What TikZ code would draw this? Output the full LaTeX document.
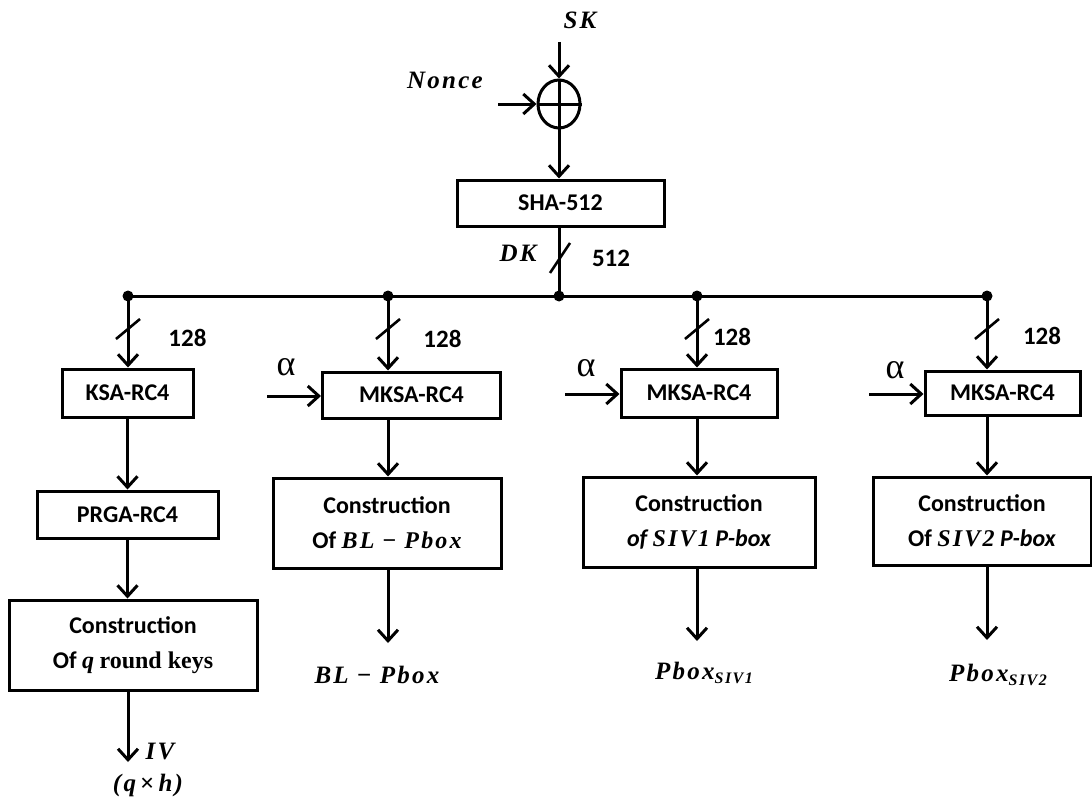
\documentclass[tikz,border=0pt]{standalone}
\usepackage{amsmath,amssymb}
\usepackage{fontspec}
\setsansfont{Carlito}
\newfontfamily\labserif{Liberation Serif}
\newfontfamily\labspaced{Liberation Serif}[LetterSpace=9]
\usepackage{tikz}
\usetikzlibrary{arrows.meta,positioning,calc,shapes.geometric}
\newcommand\boxfont{\sffamily\bfseries\fontsize{24}{35}\selectfont}
\newcommand\labfont{\labspaced\bfseries\itshape\fontsize{25}{29}\selectfont}
\newcommand\sivsub[1]{\raisebox{-0.35ex}{\fontsize{16}{16}\selectfont #1}}
\tikzset{
  blk/.style={draw,line width=3pt,align=center,inner sep=0pt,font=\boxfont},
  flow/.style={-{Straight Barb[length=11pt,width=20pt]},line width=3pt},
  wire/.style={line width=3pt},
  slash/.style={line width=2.6pt},
  junction/.style={circle,fill,inner sep=0pt,minimum size=11pt},
  lab/.style={font=\labfont,inner sep=0pt},
  width/.style={font=\sffamily\bfseries\fontsize{25}{28}\selectfont,inner sep=0pt},
  alf/.style={font=\labserif\fontsize{36}{38}\selectfont,inner sep=0pt}
}
\begin{document}
\begin{tikzpicture}[x=1pt,y=-1pt]
  \useasboundingbox (0,0) rectangle (1092,800);

  \node[lab] (sk) at (580,20) {SK};
  \node[lab] (nonce) at (445,80) {Nonce};
  \node[draw,ellipse,line width=3pt,minimum width=42pt,minimum height=48pt,inner sep=0pt] (xor) at (559,104) {};
  \coordinate (skin) at (559,42);
  \coordinate (ncin) at (498,104);
  \node[blk,minimum width=207pt,minimum height=46pt] (sha) at (560.5,203) {SHA-512};
  \node[lab] (dk) at (518,253) {DK};
  \node[width] (w512) at (611,258) {512};

  \coordinate (j0) at (559,296);
  \coordinate (j1) at (128,296);
  \coordinate (j2) at (388,296);
  \coordinate (j3) at (697,296);
  \coordinate (j4) at (987,296);

  \node[blk,minimum width=131pt,minimum height=48pt] (ksa) at (127.5,393) {KSA-RC4};
  \node[blk,minimum width=181pt,minimum height=47pt] (prga) at (127.5,514.5) {PRGA-RC4};
  \node[blk,minimum width=248pt,minimum height=90pt] (keys) at (133,645) {Construction\\Of {\labspaced\itshape q} {\labserif round keys}};
  \node[lab] (iv) at (160,751) {IV};
  \node[lab] (qh) at (148,785) {(q\,{\upshape\texttimes}\,h)};
  \coordinate (o1) at (128,762);

  \node[blk,minimum width=178pt,minimum height=46pt] (mksa1) at (411.5,395) {MKSA-RC4};
  \node[blk,minimum width=228pt,minimum height=90pt] (bl) at (387,523) {Construction\\Of {\labspaced\itshape BL {\upshape −} Pbox}};
  \node[lab] (blout) at (377,675) {BL {\upshape −} Pbox};
  \node[alf] (al1) at (286,367) {α};
  \coordinate (a1) at (267,396);
  \coordinate (o2) at (388,643);

  \node[blk,minimum width=156pt,minimum height=48pt] (mksa2) at (699,393) {MKSA-RC4};
  \node[blk,minimum width=232pt,minimum height=90pt] (siv1) at (699,522) {Construction\\{\itshape of {\labspaced SIV1} P-box}};
  \node[lab] (siv1out) at (704,673) {Pbox\sivsub{SIV1}};
  \node[alf] (al2) at (586,368) {α};
  \coordinate (a2) at (565,394);
  \coordinate (o3) at (697,641);

  \node[blk,minimum width=155pt,minimum height=44pt] (mksa3) at (1002.5,393) {MKSA-RC4};
  \node[blk,minimum width=218pt,minimum height=88pt] (siv2) at (982,521) {Construction\\Of {\labspaced\itshape SIV2} {\itshape P-box}};
  \node[lab] (siv2out) at (998,675) {Pbox\sivsub{SIV2}};
  \node[alf] (al3) at (895,370) {α};
  \coordinate (a3) at (869,394);
  \coordinate (o4) at (987,640);

  \node[width] (w1) at (187.5,337.5) {128};
  \node[width] (w2) at (442.5,339) {128};
  \node[width] (w3) at (732,337) {128};
  \node[width] (w4) at (1042,336) {128};

  \draw[wire] (xor.north) -- (xor.south);
  \draw[wire] (xor.west) -- (xor.east);
  \draw[flow] (skin) -- (xor.north);
  \draw[flow] (ncin) -- (xor.west);
  \draw[flow] (xor.south) -- (xor.south |- sha.north);
  \draw[wire] (sha.south -| j0) -- (j0);
  \draw[slash] (550,273) -- (570,243);
  \draw[wire] (j1) -- (j4);
  \foreach \j in {j0,j1,j2,j3,j4}
    \node[junction] at (\j) {};
  \foreach \j in {j1,j2,j3,j4}
    \draw[slash] ($(\j)+(-12,43)$) -- ($(\j)+(12,23)$);

  \draw[flow] (j1) -- (j1 |- ksa.north);
  \draw[flow] (ksa.south) -- (prga.north);
  \draw[flow] (prga.south) -- (prga.south |- keys.north);
  \draw[flow] (keys.south -| o1) -- (o1);

  \draw[flow] (j2) -- (j2 |- mksa1.north);
  \draw[flow] (mksa1.south -| j2) -- (j2 |- bl.north);
  \draw[flow] (bl.south -| o2) -- (o2);
  \draw[flow] (a1) -- (a1 -| mksa1.west);

  \draw[flow] (j3) -- (j3 |- mksa2.north);
  \draw[flow] (mksa2.south -| j3) -- (j3 |- siv1.north);
  \draw[flow] (siv1.south -| o3) -- (o3);
  \draw[flow] (a2) -- (a2 -| mksa2.west);

  \draw[flow] (j4) -- (j4 |- mksa3.north);
  \draw[flow] (mksa3.south -| j4) -- (j4 |- siv2.north);
  \draw[flow] (siv2.south -| o4) -- (o4);
  \draw[flow] (a3) -- (a3 -| mksa3.west);
\end{tikzpicture}
\end{document}
